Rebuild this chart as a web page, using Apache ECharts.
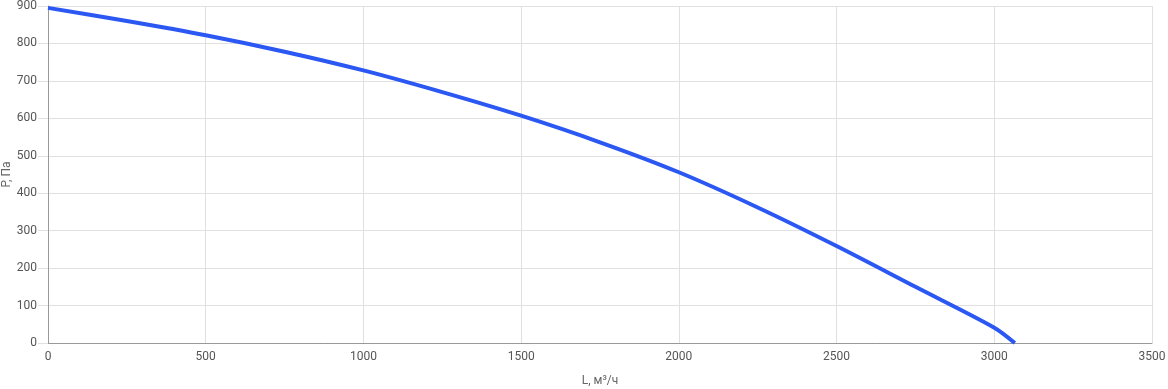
<!DOCTYPE html>
<html>
<head>
<meta charset="utf-8">
<script src="https://cdn.jsdelivr.net/npm/echarts@6/dist/echarts.min.js"></script>
<style>html,body{margin:0;padding:0;background:#fff;}#c{width:1168px;height:389px;}</style>
</head>
<body>
<div id="c"></div>
<script>
var flowL = [0, 250, 500, 750, 1000, 1250, 1500, 1750, 2000, 2250, 2500, 2750, 3000, 3065];
var pressureP = [895, 860, 822, 778, 728, 670, 607, 536, 456, 362, 259, 150, 41, 0];
var xName = 'L, м³/ч';
var yName = 'P, Па';

var chart = echarts.init(document.getElementById('c'));
chart.setOption({
  animation: false,
  grid: {left: 48, right: 16, top: 6, bottom: 46, containLabel: false, outerBoundsMode: 'none'},
  xAxis: {
    type: 'value', min: 0, max: 3500, interval: 500,
    name: xName, nameLocation: 'middle', nameGap: 32, nameMoveOverlap: false,
    nameTextStyle: {color: '#666', fontSize: 12, fontFamily: 'Roboto'},
    axisLine: {show: true, lineStyle: {color: '#999'}},
    axisTick: {show: false},
    axisLabel: {color: '#555', fontSize: 12, fontFamily: 'Roboto', margin: 8,
      formatter: function (v) { return String(v); }},
    splitLine: {show: true, lineStyle: {color: '#e0e0e0'}}
  },
  yAxis: {
    type: 'value', min: 0, max: 900, interval: 100,
    name: yName, nameLocation: 'middle', nameGap: 41, nameMoveOverlap: false,
    nameTextStyle: {color: '#666', fontSize: 12, fontFamily: 'Roboto', verticalAlign: 'middle'},
    axisLine: {show: true, lineStyle: {color: '#999'}},
    axisTick: {show: true, length: 10, lineStyle: {color: '#e0e0e0'}},
    axisLabel: {color: '#555', fontSize: 12, fontFamily: 'Roboto', margin: 11,
      formatter: function (v) { return String(v); }},
    splitLine: {show: true, lineStyle: {color: '#e0e0e0'}}
  },
  series: [{
    type: 'line',
    data: flowL.map(function (x, i) { return [x, pressureP[i]]; }),
    smooth: 0.3,
    showSymbol: false,
    lineStyle: {color: '#2b57f2', width: 4},
    itemStyle: {color: '#2b57f2'}
  }]
});
</script>
</body>
</html>
